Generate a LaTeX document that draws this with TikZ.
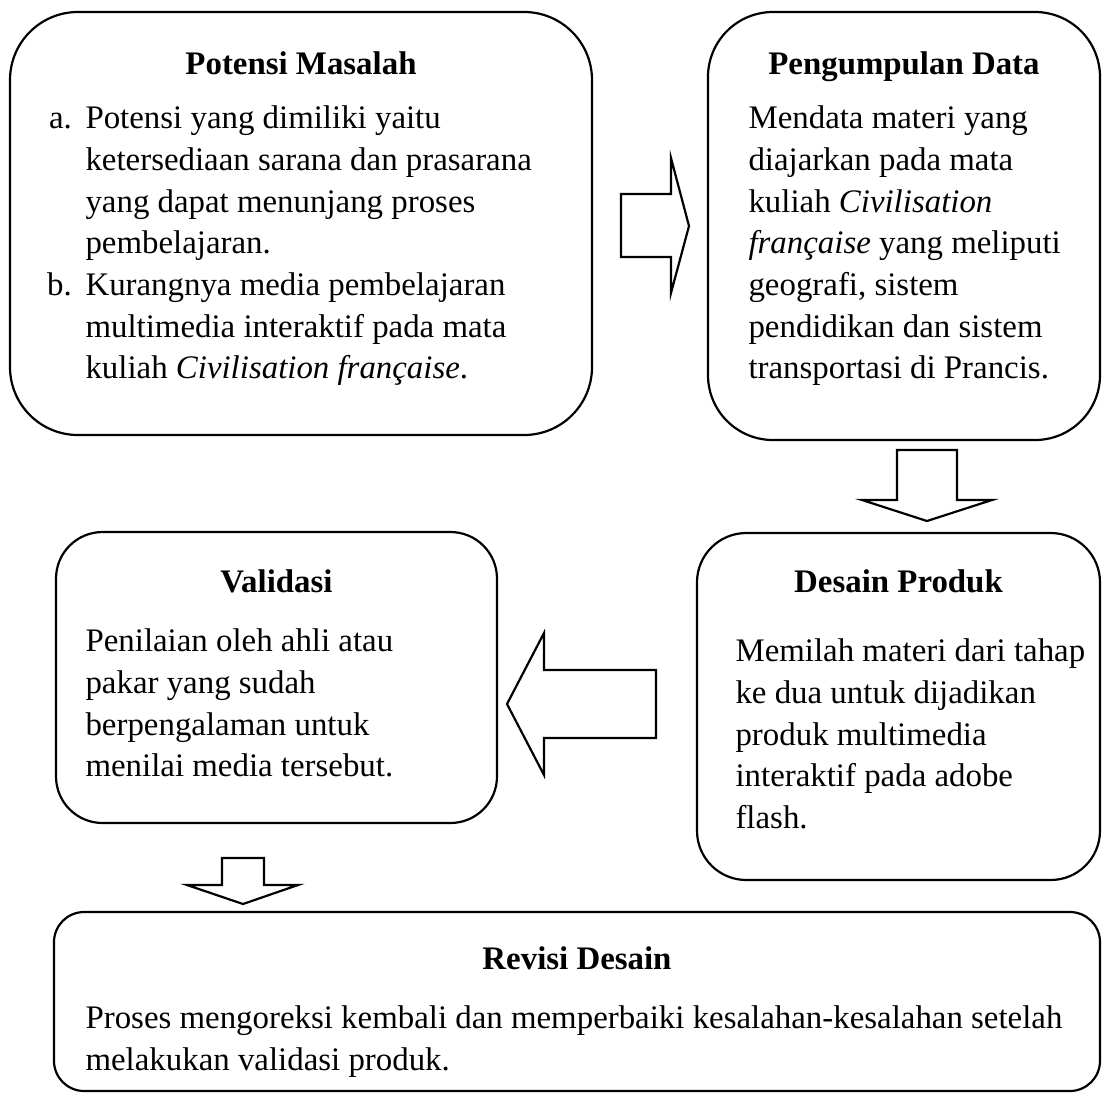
\documentclass[tikz,border=0pt]{standalone}
\usepackage{fontspec}
\setmainfont{Liberation Serif}
\usetikzlibrary{positioning, fit, calc}

\begin{document}
\begin{tikzpicture}[
    x=0.365pt, y=-0.365pt,
    font=\fontsize{12}{15.2}\selectfont,
    box/.style={draw, line width=0.8pt, inner sep=0pt},
    title/.style={font=\fontsize{12}{15.2}\selectfont\bfseries, anchor=base},
    body/.style={anchor=north west, align=left, inner sep=0pt},
    blk/.style={draw, line width=0.8pt, fill=white, line join=miter},
]
    \useasboundingbox (0,0) rectangle (1103,1092);

    %==================== POTENSI MASALAH ====================
    \node[box, rounded corners=24.8pt, fit={(10,12) (592,435)}] (potensi) {};
    \node[title] (potensiT) at ($(potensi.north)+(0,64)$) {Potensi Masalah};
    \node[body] (potensiB) at (85,105.5)
        {\llap{a.\hspace{5pt}}Potensi yang dimiliki yaitu\\
         ketersediaan sarana dan prasarana\\
         yang dapat menunjang proses\\
         pembelajaran.\\
         \llap{b.\hspace{5pt}}Kurangnya media pembelajaran\\
         multimedia interaktif pada mata\\
         kuliah \textit{Civilisation française}.};

    %==================== PENGUMPULAN DATA ====================
    \node[box, rounded corners=23.7pt, fit={(708,12) (1100,440)}] (data) {};
    \node[title] (dataT) at ($(data.north)+(0,64)$) {Pengumpulan Data};
    \node[body] (dataB) at (748,105.5)
        {Mendata materi yang\\
         diajarkan pada mata\\
         kuliah \textit{Civilisation}\\
         \textit{française} yang meliputi\\
         geografi, sistem\\
         pendidikan dan sistem\\
         transportasi di Prancis.};

    %==================== VALIDASI ====================
    \node[box, rounded corners=17pt, fit={(56,532) (497,823)}] (validasi) {};
    \node[title] (validasiT) at ($(validasi.north)+(0,62)$) {Validasi};
    \node[body] (validasiB) at (85,628.5)
        {Penilaian oleh ahli atau\\
         pakar yang sudah\\
         berpengalaman untuk\\
         menilai media tersebut.};

    %==================== DESAIN PRODUK ====================
    \node[box, rounded corners=18pt, fit={(697,533) (1100,880)}] (desain) {};
    \node[title] (desainT) at ($(desain.north)+(0,61)$) {Desain Produk};
    \node[body] (desainB) at (735,638.5)
        {Memilah materi dari tahap\\
         ke dua untuk dijadikan\\
         produk multimedia\\
         interaktif pada adobe\\
         flash.};

    %==================== REVISI DESAIN ====================
    \node[box, rounded corners=11pt, fit={(54,912) (1100,1091)}] (revisi) {};
    \node[title] (revisiT) at ($(revisi.north)+(0,59)$) {Revisi Desain};
    \node[body] (revisiB) at (85,1005.5)
        {Proses mengoreksi kembali dan memperbaiki kesalahan-kesalahan setelah\\
         melakukan validasi produk.};

    %==================== BLOCK ARROWS ====================
    % potensi -> data
    \draw[blk] (621,194) -- (671,194) -- (671,158) -- (689,226)
        -- (671,293) -- (671,257) -- (621,257) -- cycle;
    % data -> desain
    \draw[blk] (897,450) -- (957,450) -- (957,500) -- (992,500)
        -- (927,521) -- (862,500) -- (897,500) -- cycle;
    % desain -> validasi
    \draw[blk] (656,670) -- (544,670) -- (544,633) -- (507,704)
        -- (544,775) -- (544,738) -- (656,738) -- cycle;
    % validasi -> revisi
    \draw[blk] (222,858) -- (264,858) -- (264,885) -- (298,885)
        -- (243,904) -- (187,885) -- (222,885) -- cycle;

\end{tikzpicture}
\end{document}
